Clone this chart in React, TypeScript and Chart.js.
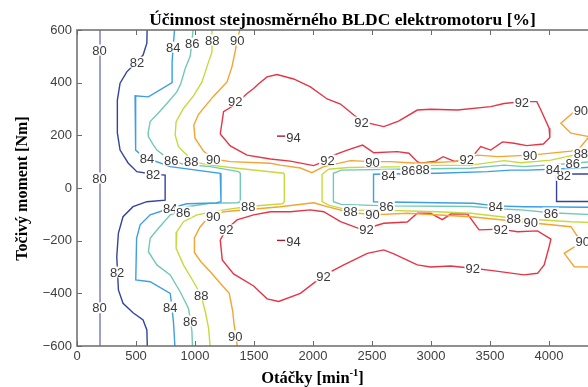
import React, { useEffect, useRef } from 'react';
import { Chart, registerables } from 'chart.js';

Chart.register(...registerables);

// ---- axes ----
const X_MIN = 0;
const X_MAX = 4500;
const Y_MIN = -600;
const Y_MAX = 600;
const xTickValues = [0, 500, 1000, 1500, 2000, 2500, 3000, 3500, 4000, 4500];
const yTickValues = [-600, -400, -200, 0, 200, 400, 600];

const titleText = 'Účinnost stejnosměrného BLDC elektromotoru [%]';
const xLabelMain = 'Otáčky [min';
const xLabelSup = '-1';
const xLabelEnd = ']';
const yLabelText = 'Točivý moment [Nm]';

// ---- contour levels ----
const levels = [80, 82, 84, 86, 88, 90, 92, 94];
const levelColors = ['#7478b4', '#34449c', '#3c9fe4', '#74c8b6', '#c6da3e', '#f3a431', '#e63447', '#a51c30'];

// ---- contour lines [rpm, Nm] ----
const c80 = [[195, -620], [195, 620]];

const c82a = [[595, 620], [592, 550], [560, 505], [507, 479], [422, 441], [365, 398], [342, 334], [342, 209], [365, 144], [433, 95], [507, 62], [645, 52], [747, 49], [747, -46], [592, -52], [475, -71], [390, -109], [351, -171], [337, -261], [351, -387], [390, -438], [475, -474], [560, -501], [592, -539], [597, -620]];
const c82b = [[4600, 53], [4064, 53], [4064, -51], [4600, -51]];

const c84a = [[830, 620], [815, 536], [806, 480], [806, 400], [605, 346], [492, 350], [497, 144], [560, 119], [600, 112], [790, 81], [1214, 56], [1220, 49], [1220, -52], [1180, -57], [931, -60], [790, -77], [620, -102], [535, -140], [505, -191], [498, -349], [620, -356], [790, -400], [804, -450], [818, -512], [832, -620]];
const c84b = [[4600, 86], [4243, 76], [4030, 71], [3818, 68], [3676, 68], [3478, 62], [3054, 56], [2513, 52], [2513, -52], [3054, -56], [3360, -58], [3549, -68], [3790, -71], [4339, -73], [4600, -75]];

const c86a = [[987, 620], [974, 552], [959, 500], [917, 454], [880, 397], [846, 365], [762, 321], [680, 280], [620, 252], [603, 210], [605, 195], [648, 163], [677, 144], [733, 125], [804, 106], [902, 90], [1129, 81], [1369, 62], [1384, 56], [1384, -52], [1360, -56], [1129, -58], [931, -71], [900, -85], [790, -102], [690, -153], [620, -191], [605, -242], [677, -292], [790, -330], [874, -394], [945, -457], [962, -505], [974, -545], [980, -620]];
const c86b = [[4600, 110], [4214, 94], [3787, 81], [3620, 87], [3337, 75], [2827, 72], [2240, 68], [2173, 56], [2173, -52], [2240, -62], [2630, -68], [3337, -70], [3620, -80], [3787, -84], [4016, -94], [4600, -106]];

const c88a = [[1144, 620], [1144, 517], [1101, 460], [1059, 403], [987, 350], [902, 302], [840, 252], [832, 201], [860, 157], [931, 125], [974, 100], [1129, 87], [1356, 75], [1752, 56], [1757, 50], [1757, -52], [1740, -60], [1455, -70], [1242, -83], [1016, -102], [902, -128], [846, -166], [840, -229], [902, -292], [987, -356], [1050, -406], [1087, -469], [1115, -532], [1132, -620]];
const c88b = [[4600, 140], [4256, 129], [4016, 106], [3761, 96], [3620, 104], [3337, 87], [2930, 85], [2800, 81], [2300, 78], [2133, 71], [2077, 52], [2077, -52], [2133, -65], [2318, -86], [2488, -83], [3054, -90], [3337, -96], [3704, -115], [4186, -128], [4600, -135]];

const c90a = [[1390, 620], [1358, 562], [1341, 520], [1313, 460], [1271, 403], [1150, 345], [1030, 280], [990, 239], [1000, 189], [1072, 140], [1155, 110], [1299, 100], [1639, 94], [1723, 87], [1893, 76], [1990, 58], [2091, 81], [2318, 104], [2502, 100], [2657, 100], [2884, 94], [3195, 100], [3394, 125], [3563, 119], [3846, 125], [4186, 140], [4260, 152], [4339, 195], [4186, 208], [4100, 246], [4230, 296], [4600, 300]];
const c90b = [[1365, -620], [1350, -575], [1330, -513], [1320, -469], [1290, -400], [1214, -362], [1130, -318], [1050, -280], [995, -245], [995, -190], [1040, -150], [1080, -128], [1157, -105], [1242, -90], [1723, -71], [2006, -56], [2120, -71], [2290, -90], [2502, -102], [2800, -96], [3337, -109], [3846, -132], [4186, -147], [4243, -185], [4285, -204], [4129, -248], [4214, -299], [4600, -301]];

const c92a = [[1214, 205], [1242, 290], [1341, 317], [1441, 359], [1497, 378], [1537, 395], [1611, 422], [1695, 431], [1836, 414], [1978, 384], [2120, 338], [2233, 319], [2346, 277], [2417, 252], [2600, 233], [2725, 254], [2884, 296], [2997, 299], [3224, 296], [3506, 309], [3619, 321], [3776, 328], [3897, 328], [3931, 296], [4001, 227], [4007, 192], [3952, 167], [3812, 161], [3704, 170], [3606, 175], [3506, 144], [3421, 157], [3362, 125], [3309, 111], [3201, 101], [3103, 119], [3039, 102], [2912, 94], [2884, 100], [2813, 132], [2714, 138], [2516, 134], [2420, 163], [2290, 144], [2176, 125], [2120, 106], [2006, 85], [1808, 102], [1639, 110], [1441, 125], [1299, 160], [1214, 205]];
const c92b = [[1214, -197], [1265, -157], [1356, -121], [1497, -102], [1639, -90], [1808, -90], [1978, -83], [2091, -90], [2233, -128], [2403, -156], [2460, -153], [2600, -134], [2799, -129], [2884, -96], [2997, -96], [3096, -120], [3167, -99], [3309, -99], [3407, -159], [3591, -156], [3733, -166], [3903, -163], [4016, -194], [4001, -223], [3959, -292], [3903, -324], [3789, -330], [3506, -313], [3351, -305], [3167, -296], [2997, -300], [2884, -292], [2685, -250], [2600, -235], [2460, -248], [2261, -292], [2091, -332], [1893, -400], [1709, -431], [1611, -421], [1497, -372], [1327, -326], [1231, -273], [1214, -197]];

const c94a = [[1695, 197], [1834, 197]];
const c94b = [[1695, -199], [1834, -199]];

// ---- inline contour labels [rpm, Nm] ----
const lab80 = [[190, 524], [190, 38], [190, -455]];
const lab82 = [[509, 478], [645, 50], [340, -319], [4126, 48]];
const lab84 = [[815, 535], [594, 114], [790, -76], [790, -452], [2640, 49], [4033, 72], [3549, -68]];
const lab86 = [[976, 550], [798, 106], [900, -91], [959, -505], [2810, 65], [4202, 95], [2623, -68], [4016, -95]];
const lab88 = [[1146, 562], [968, 102], [1452, -68], [1053, -406], [2929, 72], [4270, 133], [2318, -87], [3701, -114]];
const lab90 = [[1358, 562], [1155, 110], [1155, -106], [1341, -562], [2504, 99], [3838, 125], [2504, -102], [3846, -129], [4270, 296], [4285, -204]];
const lab92 = [[1341, 330], [2411, 250], [3770, 326], [3303, 110], [2122, 106], [1265, -159], [2454, -156], [3591, -156], [3354, -304], [2089, -334]];
const lab94 = [[1834, 194], [1834, -201]];

const contourTable = [
  { level: 80, lines: [c80], labels: lab80 },
  { level: 82, lines: [c82a, c82b], labels: lab82 },
  { level: 84, lines: [c84a, c84b], labels: lab84 },
  { level: 86, lines: [c86a, c86b], labels: lab86 },
  { level: 88, lines: [c88a, c88b], labels: lab88 },
  { level: 90, lines: [c90a, c90b], labels: lab90 },
  { level: 92, lines: [c92a, c92b], labels: lab92 },
  { level: 94, lines: [c94a, c94b], labels: lab94 },
];

const SANS = '"Liberation Sans", Arial, Helvetica, sans-serif';
const SERIF = '"Liberation Serif", "Times New Roman", serif';

const fmt = (v: number) => (v < 0 ? '\u2212' + Math.abs(v) : String(v));

const decorPlugin = {
  id: 'decor',
  afterDatasetsDraw(chart: any) {
    const { ctx, chartArea: a } = chart;
    const xs = chart.scales.x;
    const ys = chart.scales.y;
    ctx.save();
    ctx.beginPath();
    ctx.rect(a.left, a.top, a.right - a.left, a.bottom - a.top);
    ctx.clip();
    ctx.font = '13px ' + SANS;
    ctx.textAlign = 'center';
    ctx.textBaseline = 'alphabetic';
    contourTable.forEach((c) => {
      const txt = String(c.level);
      const w = ctx.measureText(txt).width;
      c.labels.forEach(([x, y]) => {
        const px = xs.getPixelForValue(x);
        const py = ys.getPixelForValue(y);
        ctx.fillStyle = '#ffffff';
        ctx.fillRect(px - w / 2 - 1, py - 5.5, w + 2, 11);
        ctx.fillStyle = '#3a3a3a';
        ctx.fillText(txt, px, py + 4.6);
      });
    });
    ctx.restore();
  },
  afterDraw(chart: any) {
    const { ctx, chartArea: a } = chart;
    const xs = chart.scales.x;
    const ys = chart.scales.y;
    ctx.save();
    // box
    ctx.strokeStyle = '#6b6b6b';
    ctx.lineWidth = 1.5;
    ctx.beginPath();
    ctx.moveTo(a.right, a.top);
    ctx.lineTo(a.left, a.top);
    ctx.lineTo(a.left, a.bottom);
    ctx.lineTo(a.right, a.bottom);
    ctx.stroke();
    // inward ticks
    ctx.lineWidth = 1;
    ctx.beginPath();
    xTickValues.forEach((v) => {
      const px = Math.round(xs.getPixelForValue(v)) + 0.5;
      ctx.moveTo(px, a.bottom);
      ctx.lineTo(px, a.bottom - 5);
      ctx.moveTo(px, a.top);
      ctx.lineTo(px, a.top + 5);
    });
    yTickValues.forEach((v) => {
      const py = Math.round(ys.getPixelForValue(v)) + 0.5;
      ctx.moveTo(a.left, py);
      ctx.lineTo(a.left + 5, py);
    });
    ctx.stroke();

    ctx.fillStyle = '#000000';
    // title
    ctx.font = 'bold 17.5px ' + SERIF;
    ctx.textAlign = 'center';
    ctx.textBaseline = 'alphabetic';
    ctx.fillText(titleText, (a.left + a.right) / 2, 25);

    // x label with superscript
    const mainFont = 'bold 16.5px ' + SERIF;
    const supFont = 'bold 10.5px ' + SERIF;
    ctx.font = mainFont;
    const w1 = ctx.measureText(xLabelMain).width;
    const w3 = ctx.measureText(xLabelEnd).width;
    ctx.font = supFont;
    const w2 = ctx.measureText(xLabelSup).width;
    const total = w1 + w2 + w3;
    let sx = 312.5 - total / 2;
    const by = 382.5;
    ctx.textAlign = 'left';
    ctx.font = mainFont;
    ctx.fillText(xLabelMain, sx, by);
    sx += w1;
    ctx.font = supFont;
    ctx.fillText(xLabelSup, sx, by - 6.5);
    sx += w2;
    ctx.font = mainFont;
    ctx.fillText(xLabelEnd, sx, by);

    // y label
    ctx.translate(26.5, 188.5);
    ctx.rotate(-Math.PI / 2);
    ctx.font = 'bold 16px ' + SERIF;
    ctx.textAlign = 'center';
    ctx.fillText(yLabelText, 0, 0);
    ctx.restore();
  },
};

export default function App() {
  const ref = useRef<HTMLCanvasElement | null>(null);
  useEffect(() => {
    if (!ref.current) return;
    const datasets: any[] = [];
    contourTable.forEach((c) => {
      const color = levelColors[levels.indexOf(c.level)];
      c.lines.forEach((line) => {
        datasets.push({
          label: String(c.level),
          data: line.map(([x, y]) => ({ x, y })),
          showLine: true,
          borderColor: color,
          backgroundColor: color,
          borderWidth: 1.4,
          pointRadius: 0,
          pointHoverRadius: 0,
          fill: false,
          tension: 0,
        });
      });
    });
    const chart = new Chart(ref.current, {
      type: 'scatter',
      data: { datasets },
      options: {
        responsive: false,
        animation: false,
        devicePixelRatio: 1,
        layout: { padding: { top: 30, left: 0, right: 22, bottom: 0 } },
        plugins: { legend: { display: false }, tooltip: { enabled: false } },
        scales: {
          x: {
            type: 'linear',
            min: X_MIN,
            max: X_MAX,
            afterBuildTicks: (s: any) => {
              s.ticks = xTickValues.map((v) => ({ value: v }));
            },
            afterFit: (s: any) => {
              s.height = 41;
            },
            ticks: {
              autoSkip: false,
              maxRotation: 0,
              padding: 3,
              color: '#404040',
              font: { family: SANS, size: 13 },
              callback: (v: any) => fmt(Number(v)),
            },
            grid: { display: false, drawTicks: false },
            border: { display: false },
          },
          y: {
            type: 'linear',
            min: Y_MIN,
            max: Y_MAX,
            afterBuildTicks: (s: any) => {
              s.ticks = yTickValues.map((v) => ({ value: v }));
            },
            afterFit: (s: any) => {
              s.width = 77;
            },
            ticks: {
              autoSkip: false,
              padding: 5,
              color: '#404040',
              font: { family: SANS, size: 13 },
              callback: (v: any) => fmt(Number(v)),
            },
            grid: { display: false, drawTicks: false },
            border: { display: false },
          },
        },
      } as any,
      plugins: [decorPlugin],
    });
    return () => chart.destroy();
  }, []);
  return (
    <div style={{ position: 'fixed', left: 0, top: 0, width: 588, height: 387, overflow: 'hidden', background: '#ffffff' }}>
      <canvas ref={ref} width={630} height={387} style={{ display: 'block' }} />
    </div>
  );
}
